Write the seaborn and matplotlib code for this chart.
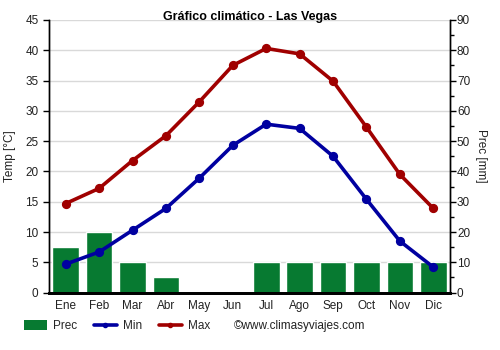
import matplotlib
matplotlib.use("Agg")
import matplotlib.pyplot as plt
from matplotlib.lines import Line2D
from matplotlib.patches import Patch
from matplotlib.ticker import MultipleLocator, FixedLocator
import seaborn as sns
import pandas as pd

months = ["Ene", "Feb", "Mar", "Abr", "May", "Jun", "Jul", "Ago", "Sep", "Oct", "Nov", "Dic"]
prec_mm = [15, 20, 10, 5, 0, 0, 10, 10, 10, 10, 10, 10]
temp_min = [4.7, 6.7, 10.3, 13.9, 18.9, 24.3, 27.8, 27.1, 22.5, 15.4, 8.5, 4.2]
temp_max = [14.7, 17.2, 21.8, 25.9, 31.5, 37.5, 40.3, 39.4, 34.9, 27.3, 19.5, 13.9]

GREEN = "#077a31"
BLUE = "#0000a0"
RED = "#a00000"
GRID = "#d9d9d9"
TEXT = "#222222"

sns.set_theme(style="white")
plt.rcParams["font.family"] = ["Liberation Sans", "DejaVu Sans"]

df = pd.DataFrame({"mes": months, "prec": prec_mm, "min": temp_min, "max": temp_max})

fig = plt.figure(figsize=(5, 3.5), dpi=100)
ax = fig.add_axes([0.098, 0.164, 0.802, 0.779])
ax2 = ax.twinx()

# precipitation bars on the secondary axis, kept behind the temperature lines
ax2.set_zorder(ax.get_zorder() - 1)
ax.patch.set_visible(False)
sns.barplot(data=df, x="mes", y="prec", order=months, color=GREEN, width=0.8,
            saturation=1, ax=ax2, zorder=2)
ax2.set_ylim(0, 90)
ax2.yaxis.set_major_locator(MultipleLocator(10))
ax2.yaxis.set_minor_locator(MultipleLocator(5))
ax2.set_ylabel("Prec [mm]", rotation=270, labelpad=12, fontsize=8.5, color=TEXT)

for col, color in (("min", BLUE), ("max", RED)):
    sns.pointplot(data=df, x="mes", y=col, order=months, color=color,
                  markers="o", markersize=4.7, linewidth=2.6, ax=ax, zorder=5)

ax.set_ylim(0, 45)
ax.set_xlim(-0.5, 11.5)
ax.yaxis.set_major_locator(MultipleLocator(5))
ax.set_ylabel("Temp [°C]", fontsize=8.5, color=TEXT, labelpad=7)
ax.set_xlabel("")
ax2.set_xlabel("")

# month labels at bar centres, tick marks and grid at month boundaries
ax.set_xticks(range(12))
ax.set_xticklabels(months)
ax.xaxis.set_minor_locator(FixedLocator([i - 0.5 for i in range(13)]))
ax2.grid(False)
ax.grid(False)
ax2.yaxis.grid(True, color=GRID, linewidth=1, zorder=0)
ax2.xaxis.grid(True, which="minor", color=GRID, linewidth=1, zorder=0)
ax2.set_axisbelow(True)

ax.tick_params(axis="x", which="major", length=0, labelsize=8.5, pad=5, colors=TEXT)
ax.tick_params(axis="x", which="minor", length=4, width=1, color="black", direction="out")
ax.tick_params(axis="y", length=4, width=1, color="black", labelsize=8.5,
               labelcolor=TEXT, direction="out", left=True)
ax2.tick_params(axis="y", which="major", length=4, width=1, color="black", labelsize=8.5,
                labelcolor=TEXT, direction="out", right=True, pad=1)
ax2.tick_params(axis="y", which="minor", length=3, width=1, color="black", direction="out", right=True)

for a in (ax, ax2):
    a.spines["top"].set_visible(False)
    a.spines["left"].set_color("black")
    a.spines["right"].set_color("black")
    a.spines["left"].set_linewidth(1)
    a.spines["right"].set_linewidth(1)
    a.spines["bottom"].set_color("black")
    a.spines["bottom"].set_linewidth(2)

fig.text(0.5, 0.951, "Gráfico climático - Las Vegas", fontsize=9, fontweight="bold",
         ha="center", va="center", color="black")

handles = [
    Patch(facecolor=GREEN, edgecolor="none"),
    Line2D([], [], color=BLUE, linewidth=2.6, marker="o", markersize=3),
    Line2D([], [], color=RED, linewidth=2.6, marker="o", markersize=3),
]
fig.legend(handles, ["Prec", "Min", "Max"], loc="center left", bbox_to_anchor=(0.026, 0.068),
           ncol=3, frameon=False, fontsize=8.5, handlelength=1.95, handleheight=0.9,
           columnspacing=1.4, handletextpad=0.55)
fig.text(0.468, 0.068, "©www.climasyviajes.com", fontsize=8.5, va="center", ha="left", color=TEXT)

fig.savefig("out.png", dpi=100)
